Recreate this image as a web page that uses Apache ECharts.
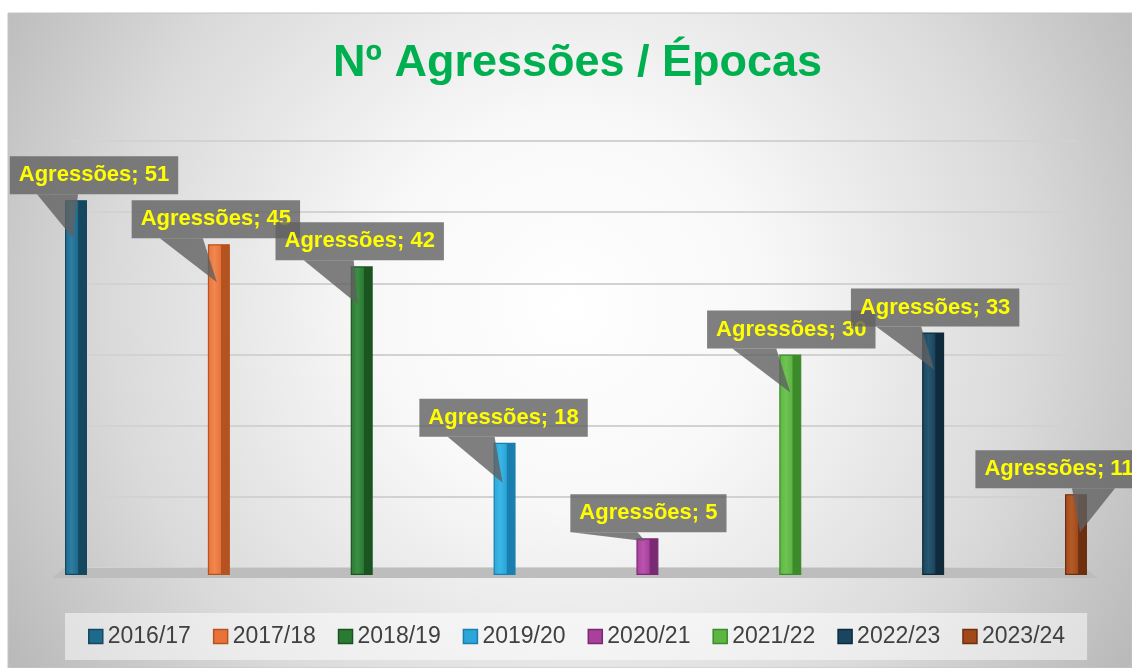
<!DOCTYPE html>
<html>
<head>
<meta charset="utf-8">
<script src="https://cdn.jsdelivr.net/npm/echarts@6/dist/echarts.min.js"></script>
<style>html,body{margin:0;padding:0;background:#fff}#c{width:1132px;height:668px}</style>
</head>
<body>
<div id="c"></div>
<script>
// ---- data ----
const titleText = 'Nº Agressões / Épocas';
const categoryName = 'Agressões';
const seasons = ['2016/17', '2017/18', '2018/19', '2019/20', '2020/21', '2021/22', '2022/23', '2023/24'];
const values = [51, 45, 42, 18, 5, 30, 33, 11];
const axisMax = 60;
const axisStep = 10;

// ---- styles ----
const baseColors = ['#1f6a8c', '#e8733a', '#2b7a33', '#2aa6d9', '#a8409c', '#5db542', '#1a4560', '#a04a1c'];
const lightColors = ['#2c7ea3', '#f08850', '#3a8f42', '#3bb6e6', '#b954ad', '#6fc454', '#27566f', '#b45a28'];
const darkColors = ['#15475f', '#b4531f', '#1a5420', '#1a7fae', '#7a2a73', '#3c8a2a', '#0f2a3b', '#6e2f0f'];
const callout = [
  {dx: 18, base: [-39, 2], tip: [-3, 38]},
  {dx: -3, base: [-59, -16], tip: [-2, 38]},
  {dx: -2, base: [-58, -8], tip: [-4, 38]},
  {dx: -1, base: [-57, -10], tip: [-2, 40]},
  {dx: 1, base: [-76, -10], tip: [-2, 3]},
  {dx: 1, base: [-58, -14], tip: [0, 38]},
  {dx: 2, base: [-57, -12], tip: [1, 37]},
  {dx: -17, base: [-4, 39], tip: [4, 38]}
];
const boxFill = 'rgba(96,96,96,0.8)';

const chart = echarts.init(document.getElementById('c'), null, {renderer: 'canvas'});

const barSeries = seasons.map((s, k) => ({
  name: s,
  type: 'bar',
  xAxisIndex: 1,
  yAxisIndex: 1,
  barWidth: 22,
  barGap: '-100%',
  z: 3,
  data: values.map((v, i) => (i === k ? [i, v] : null)).filter(d => d !== null),
  itemStyle: {
    color: new echarts.graphic.LinearGradient(0, 0, 1, 0, [
      {offset: 0, color: baseColors[k]},
      {offset: 0.3, color: lightColors[k]},
      {offset: 0.58, color: baseColors[k]},
      {offset: 0.62, color: darkColors[k]},
      {offset: 1, color: darkColors[k]}
    ]),
    borderColor: darkColors[k],
    borderWidth: 1.2
  }
}));

const calloutSeries = {
  name: 'callouts',
  type: 'custom',
  xAxisIndex: 1,
  yAxisIndex: 1,
  z: 10,
  clip: false,
  silent: true,
  data: values.map((v, i) => [i, v]),
  renderItem: function (params, api) {
    const i = api.value(0);
    const v = api.value(1);
    const p = api.coord([i, v]);
    const L = callout[i];
    const boxBottom = p[1] - 6;
    return {
      type: 'group',
      children: [
        {
          type: 'polygon',
          shape: {points: [[p[0] + L.base[0], boxBottom], [p[0] + L.base[1], boxBottom], [p[0] + L.tip[0], p[1] + L.tip[1]]]},
          style: {fill: boxFill}
        },
        {
          type: 'text',
          x: p[0] + L.dx,
          y: boxBottom,
          style: {
            text: categoryName + '; ' + v,
            fill: '#FFFF00',
            font: 'bold 22px "Liberation Sans", Arial, sans-serif',
            align: 'center',
            verticalAlign: 'bottom',
            backgroundColor: boxFill,
            padding: [8, 9, 8, 9]
          }
        }
      ]
    };
  }
};

const option = {
  animation: false,
  title: {
    text: titleText,
    left: 333,
    top: 41,
    padding: 0,
    textStyle: {color: '#00B050', fontSize: 45, fontWeight: 'bold', fontFamily: '"Liberation Sans", Arial, sans-serif'}
  },
  graphic: [
    {
      type: 'rect', z: -100, silent: true,
      shape: {x: 8, y: 13, width: 1124, height: 655},
      style: {
        fill: new echarts.graphic.RadialGradient(0.5, 0.45, 1.0, [
          {offset: 0, color: '#ffffff'},
          {offset: 0.3, color: '#f8f8f8'},
          {offset: 0.7, color: '#dadada'},
          {offset: 1, color: '#bababa'}
        ]),
        stroke: '#c4c4c4', lineWidth: 1
      }
    },
    {
      type: 'polygon', z: 1, silent: true,
      shape: {points: [[52, 578], [64, 568], [1085, 568], [1098, 578]]},
      style: {fill: '#bdbdbd'}
    }
  ],
  legend: {
    data: seasons.map((s, k) => ({name: s, itemStyle: {color: baseColors[k], borderColor: darkColors[k], borderWidth: 1.5}})),
    left: 65,
    top: 613,
    padding: [12, 22, 12, 23],
    itemGap: 22,
    itemWidth: 14,
    itemHeight: 14,
    icon: 'rect',
    backgroundColor: 'rgba(255,255,255,0.5)',
    textStyle: {color: '#404040', fontSize: 23, fontFamily: '"Liberation Sans", Arial, sans-serif'}
  },
  grid: [
    {left: 70, right: 55, top: 141, bottom: 100},
    {left: 76, right: 56, top: 134, bottom: 93}
  ],
  xAxis: [
    {gridIndex: 0, type: 'value', min: 0, max: 1, show: false},
    {gridIndex: 1, type: 'value', min: 0, max: seasons.length - 1, show: false, splitLine: {show: false}}
  ],
  yAxis: [
    {gridIndex: 0, type: 'value', min: 0, max: axisMax, interval: axisStep,
      axisLine: {show: false}, axisTick: {show: false}, axisLabel: {show: false},
      splitLine: {show: true, lineStyle: {color: '#d2d2d2', width: 2}}},
    {gridIndex: 1, type: 'value', min: 0, max: axisMax, show: false, splitLine: {show: false}}
  ],
  series: barSeries.concat([calloutSeries])
};
chart.setOption(option);
</script>
</body>
</html>
